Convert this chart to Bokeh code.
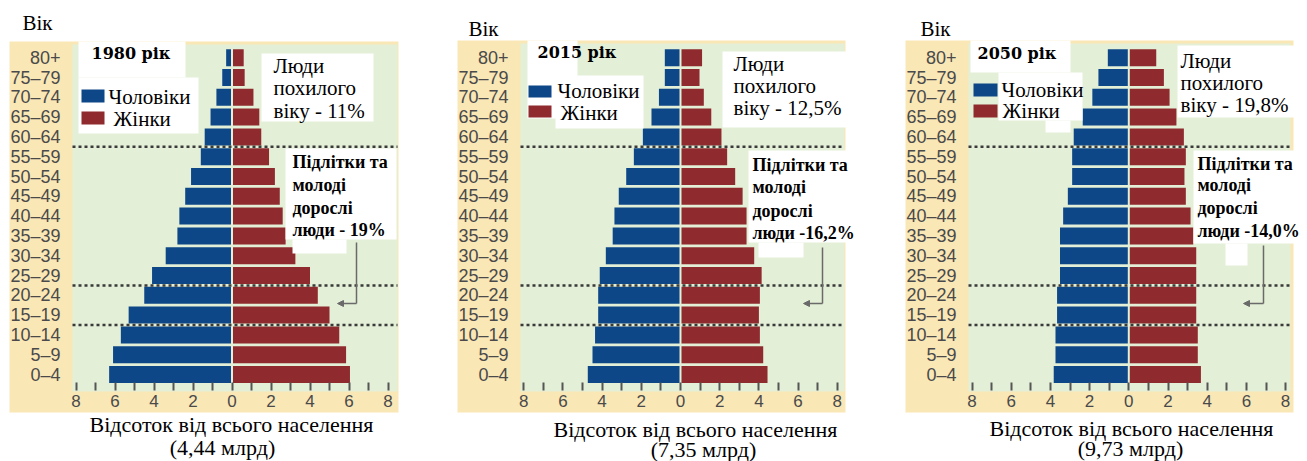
from bokeh.plotting import figure
from bokeh.layouts import row
from bokeh.models import Range1d, FixedTicker, ColumnDataSource, Arrow, NormalHead
from bokeh.embed import file_html
from bokeh.resources import INLINE
from bokeh.core.properties import value

# ---------------- data ----------------
age_groups = ["0–4", "5–9", "10–14", "15–19", "20–24", "25–29", "30–34", "35–39",
              "40–44", "45–49", "50–54", "55–59", "60–64", "65–69", "70–74", "75–79", "80+"]

years = ["1980", "2015", "2050"]

male_1980 = [6.3, 6.1, 5.7, 5.3, 4.5, 4.1, 3.4, 2.8, 2.7, 2.4, 2.1, 1.6, 1.4, 1.1, 0.8, 0.5, 0.3]
female_1980 = [6.05, 5.85, 5.5, 5.0, 4.4, 4.0, 3.25, 2.75, 2.6, 2.45, 2.2, 1.9, 1.5, 1.4, 1.1, 0.65, 0.6]

male_2015 = [4.73, 4.49, 4.36, 4.2, 4.2, 4.12, 3.81, 3.46, 3.37, 3.15, 2.77, 2.38, 1.92, 1.48, 1.1, 0.8, 0.8]
female_2015 = [4.44, 4.22, 4.05, 4.0, 4.05, 4.14, 3.76, 3.37, 3.37, 3.17, 2.79, 2.38, 2.09, 1.57, 1.19, 0.97, 1.1]

male_2050 = [3.83, 3.74, 3.74, 3.66, 3.66, 3.51, 3.51, 3.51, 3.35, 3.11, 2.89, 2.89, 2.81, 2.35, 1.86, 1.55, 1.07]
female_2050 = [3.68, 3.52, 3.52, 3.44, 3.44, 3.44, 3.44, 3.29, 3.15, 2.91, 2.84, 2.91, 2.81, 2.43, 2.08, 1.79, 1.4]

population_totals = ["4,44", "7,35", "9,73"]
elderly_share = ["11%", "12,5%", "19,8%"]
youth_share = ["- 19%", "-16,2%", "-14,0%"]

x_ticks = list(range(-8, 9))
x_tick_labels = {t: (str(abs(t)) if t % 2 == 0 else "") for t in x_ticks}

# boundaries between age groups: 10–14|15–19, 20–24|25–29, 55–59|60–64
group_boundaries = [2.5, 4.5, 11.5]

# ---------------- style ----------------
BLUE = "#0e4787"
RED = "#8f2b2f"
BEIGE = "#f9e7b6"
GREEN = "#e3efd6"
TICK_COL = "#4a4a4a"
SERIF = "Liberation Serif"
SERIF_B = "DejaVu Serif"
SANS = "Liberation Sans"

ROW = 19.8      # px per age group
Y0 = 374.0      # image y of the 0–4 row centre
FIG_TOP = 0
FIG_H = 461

PANELS = [
    dict(left=0, width=448, x0=231.5, s=19.5,
         vik=(22, 22), beige=(9, 398, 41, 412), green=(72, 397, 44, 391),
         white1=[(78, 185, 41, 77), (78, 198, 77, 133)], title=(91, 53),
         blue=(81, 104, 89, 102), red=(81, 104, 111, 124), lab_m=(108, 96), lab_f=(113, 118),
         ann1_box=[(261, 373, 53, 121)], ann1=(273, [65, 87, 110]),
         ann2_box=[(285, 396, 148, 239), (292, 346, 239, 253)], ann2=(292, [161, 184, 207, 229]),
         arrow=(356, 242, 303, 337), cap=[(231, 424), (222, 447)]),
    dict(left=448, width=448, x0=680.0, s=19.6,
         vik=(468, 28), beige=(457, 845, 40, 412), green=(520, 844, 43, 391),
         white1=[(527, 577, 40, 118), (555, 643, 75, 128)], title=(537, 52),
         blue=(528, 551, 85, 97), red=(528, 551, 105, 117), lab_m=(557, 90), lab_f=(560, 112),
         ann1_box=[(722, 851, 51, 127)], ann1=(733, [63, 85, 107]),
         ann2_box=[(748, 855, 150, 242), (758, 803, 242, 257)], ann2=(752, [164, 186, 210, 232]),
         arrow=(822, 247, 303, 803), cap=[(695, 429), (703, 449)]),
    dict(left=896, width=411, x0=1128.3, s=19.6,
         vik=(920, 28), beige=(905, 1293, 40, 412), green=(968, 1290, 43, 391),
         white1=[(970, 1070, 40, 72), (998, 1082, 72, 120), (1045, 1070, 120, 132)], title=(977, 53),
         blue=(973, 997, 83, 96), red=(973, 997, 104, 117), lab_m=(1001, 89), lab_f=(1002, 110),
         ann1_box=[(1177, 1303, 45, 117)], ann1=(1180, [60, 82, 104]),
         ann2_box=[(1193, 1303, 150, 243), (1225, 1247, 243, 265)], ann2=(1197, [163, 184, 207, 230]),
         arrow=(1263, 245, 303, 1243), cap=[(1131, 428), (1130, 448)]),
]

SERIES = [(male_1980, female_1980), (male_2015, female_2015), (male_2050, female_2050)]


def build(k):
    cfg = PANELS[k]
    male, female = SERIES[k]

    def X(xi):
        return (xi - cfg["x0"]) / cfg["s"]

    def Y(yi):
        return (Y0 - yi) / ROW

    p = figure(width=cfg["width"], height=FIG_H,
               x_range=Range1d(X(cfg["left"]), X(cfg["left"] + cfg["width"])),
               y_range=Range1d(Y(FIG_TOP + FIG_H), Y(FIG_TOP)),
               output_backend="svg", toolbar_location=None,
               min_border=0, min_border_left=0, min_border_right=0,
               min_border_top=0, min_border_bottom=0)
    p.outline_line_color = None
    p.background_fill_color = "white"
    p.border_fill_color = "white"
    p.grid.visible = False

    def quad(box, color):
        x1, x2, y1, y2 = box
        p.quad(left=X(x1), right=X(x2), top=Y(y1), bottom=Y(y2),
               fill_color=color, line_color=None)

    quad(cfg["beige"], BEIGE)
    quad(cfg["green"], GREEN)

    gap = 1.0 / cfg["s"]
    src = ColumnDataSource(dict(
        y=list(range(len(age_groups))),
        male_left=[-m for m in male],
        male_right=[-gap] * len(male),
        female_left=[gap] * len(female),
        female_right=female,
        age=age_groups,
    ))
    p.hbar(y="y", left="male_left", right="male_right", height=0.86, source=src,
           fill_color=BLUE, line_color=None)
    p.hbar(y="y", left="female_left", right="female_right", height=0.86, source=src,
           fill_color=RED, line_color=None)

    gl, gr = X(cfg["green"][0]), X(cfg["green"][1])
    p.segment(x0=[gl] * 3, x1=[gr] * 3, y0=group_boundaries, y1=group_boundaries,
              line_color="#3a3a3a", line_width=2.5, line_dash="3 3")

    # white annotation boxes
    for b in cfg["white1"] + cfg["ann1_box"] + cfg["ann2_box"]:
        quad(b, "white")

    # legend swatches
    quad(cfg["blue"], BLUE)
    quad(cfg["red"], RED)

    def txt(xi, yi, s, font=SERIF, size="16px", style="normal", align="left"):
        p.text(x=[X(xi)], y=[Y(yi)], text=[s], text_font=value(font),
               text_font_size=size, text_font_style=style, text_align=align,
               text_baseline="middle", text_color="black")

    txt(cfg["vik"][0], cfg["vik"][1], "Вік", size="21px")
    txt(cfg["title"][0], cfg["title"][1], f"{years[k]} рік", font=SERIF_B, size="16px", style="bold")
    txt(cfg["lab_m"][0], cfg["lab_m"][1], "Чоловіки", size="21px")
    txt(cfg["lab_f"][0], cfg["lab_f"][1], "Жінки", size="21px")

    ax, ays = cfg["ann1"]
    for s, yy in zip(["Люди", "похилого", f"віку - {elderly_share[k]}"], ays):
        txt(ax, yy, s, size="21px")
    ax, ays = cfg["ann2"]
    for s, yy in zip(["Підлітки та", "молоді", "дорослі", f"люди {youth_share[k]}"], ays):
        txt(ax, yy, s, size="18px", style="bold")

    (c1x, c1y), (c2x, c2y) = cfg["cap"]
    txt(c1x, c1y, "Відсоток від всього населення", size="22px", align="center")
    txt(c2x, c2y, f"({population_totals[k]} млрд)", size="22px", align="center")

    # arrow
    axx, ay1, ay2, ahx = cfg["arrow"]
    p.segment(x0=[X(axx)], x1=[X(axx)], y0=[Y(ay1)], y1=[Y(ay2)],
              line_color="#6a6a6a", line_width=1.5)
    p.add_layout(Arrow(end=NormalHead(size=6, fill_color="#6a6a6a", line_color="#6a6a6a"),
                       x_start=X(axx), y_start=Y(ay2), x_end=X(ahx), y_end=Y(ay2),
                       line_color="#6a6a6a", line_width=1.5))

    # axes
    xa = p.xaxis[0]
    xa.fixed_location = Y(390)
    xa.ticker = FixedTicker(ticks=x_ticks, minor_ticks=[])
    xa.major_label_overrides = x_tick_labels
    xa.axis_line_color = None
    xa.major_tick_in = 8
    xa.major_tick_out = 0
    xa.major_tick_line_width = 2
    xa.major_tick_line_color = "#555555"
    xa.minor_tick_line_color = None
    xa.major_label_standoff = 4
    xa.major_label_text_font = SANS
    xa.major_label_text_font_size = "17px"
    xa.major_label_text_color = TICK_COL

    ya = p.yaxis[0]
    ya.fixed_location = X(cfg["green"][0])
    ya.ticker = FixedTicker(ticks=list(range(len(age_groups))), minor_ticks=[])
    ya.major_label_overrides = {i: a for i, a in enumerate(age_groups)}
    ya.axis_line_color = None
    ya.major_tick_in = 0
    ya.major_tick_out = 0
    ya.minor_tick_line_color = None
    ya.major_label_standoff = 12
    ya.major_label_text_font = SANS
    ya.major_label_text_font_size = "18px"
    ya.major_label_text_color = TICK_COL
    return p


layout = row(*[build(k) for k in range(3)])
open("out.html", "w").write(file_html(layout, INLINE))
